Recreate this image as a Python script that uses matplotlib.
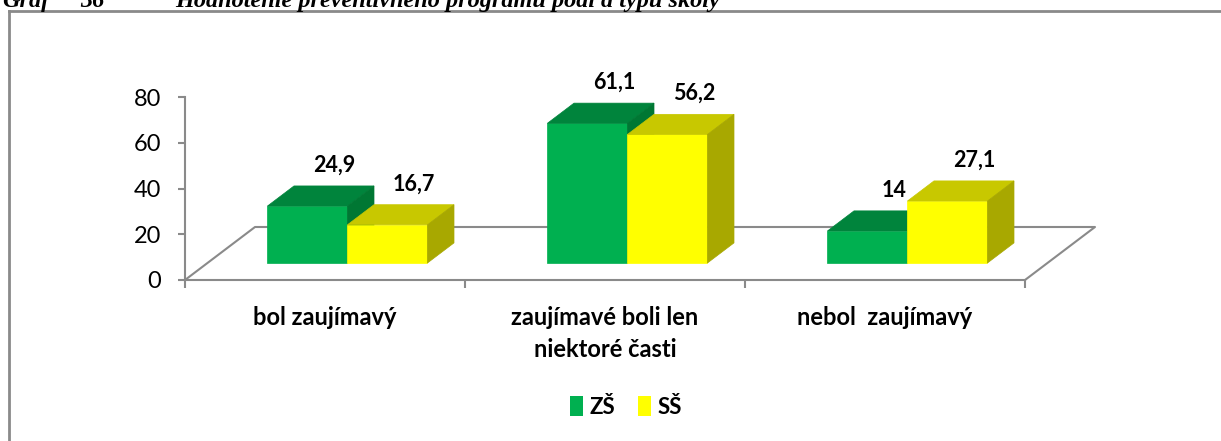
import matplotlib.pyplot as plt
from matplotlib.patches import Polygon, Patch
from matplotlib.lines import Line2D

# data
categories = ['bol zaujímavý', 'zaujímavé boli len\nniektoré časti', 'nebol  zaujímavý']
series_names = ['ZŠ', 'SŠ']
zs_values = [24.9, 61.1, 14.0]
ss_values = [16.7, 56.2, 27.1]
value_labels = [['24,9', '61,1', '14'], ['16,7', '56,2', '27,1']]
yticks = [0, 20, 40, 60, 80]

# colours: front, top, side
palette = [('#00b050', '#00843c', '#007733'),
           ('#ffff00', '#c8c800', '#a8a800')]

plt.rcParams['font.family'] = ['Lato', 'DejaVu Sans']

W, H = 1221, 441
fig = plt.figure(figsize=(W / 100, H / 100), dpi=100)

# plot area in pixels: front floor from x=185..1025, y 0 at 280, 80 at 97
ax = fig.add_axes([185 / W, 1 - 280 / H, 840 / W, 183 / H])
ax.set_xlim(0, 3)
ax.set_ylim(0, 80)
ax.patch.set_visible(False)

# oblique projection of the depth axis (in data units)
DX = 70 / 280
DY = 53 / (183 / 80)

def proj(x, v, d):
    return (x + d * DX, v + d * DY)

gray = '#8a8a8a'
for s in ['top', 'right']:
    ax.spines[s].set_visible(False)
for s in ['left', 'bottom']:
    ax.spines[s].set_color(gray)
    ax.spines[s].set_linewidth(1.5)

# floor outline
floor = [proj(0, 0, 0), proj(0, 0, 1), proj(3, 0, 1), proj(3, 0, 0)]
ax.plot([p[0] for p in floor], [p[1] for p in floor], color=gray, lw=1.5,
        clip_on=False, zorder=1)

ax.set_yticks(yticks)
ax.set_yticklabels([str(t) for t in yticks], fontsize=17)
ax.set_xticks([0, 1, 2, 3])
ax.set_xticklabels([])
ax.tick_params(axis='y', length=5, width=1.5, color=gray, pad=12)
ax.tick_params(axis='x', length=6, width=1.5, color=gray)

bw = 80 / 280
d0, d1 = 0.32, 0.70
z = 3
for i in range(len(categories)):
    for j, vals in enumerate([zs_values, ss_values]):
        v = vals[i]
        x0 = i + 0.5 - bw + j * bw
        x1 = x0 + bw
        front, top, side = palette[j]
        faces = [
            ([proj(x0, 0, d0), proj(x1, 0, d0), proj(x1, v, d0), proj(x0, v, d0)], front),
            ([proj(x0, v, d0), proj(x1, v, d0), proj(x1, v, d1), proj(x0, v, d1)], top),
            ([proj(x1, 0, d0), proj(x1, 0, d1), proj(x1, v, d1), proj(x1, v, d0)], side),
        ]
        for pts, c in faces:
            ax.add_patch(Polygon(pts, closed=True, facecolor=c, edgecolor=c,
                                 lw=0.5, clip_on=False, zorder=z))
        z += 1
        lx, ly = proj((x0 + x1) / 2, v, d1)
        ax.annotate(value_labels[j][i], (lx, ly), xytext=(0, 15),
                    textcoords='offset points', ha='center', va='center',
                    fontsize=15.5, fontweight='bold', zorder=20)

# category labels
for i, cat in enumerate(categories):
    ax.annotate(cat, (i + 0.5, 0), xytext=(0, -18.5), textcoords='offset points',
                ha='center', va='top', fontsize=17, fontweight='bold',
                linespacing=1.5, annotation_clip=False)

handles = [Patch(facecolor=palette[k][0], edgecolor='none') for k in range(2)]
fig.legend(handles, series_names, loc='center', bbox_to_anchor=(626 / W, 1 - 407 / H),
           ncol=2, frameon=False, handlelength=0.6, handleheight=1.0,
           handletextpad=0.3, columnspacing=1.0,
           prop={'weight': 'bold', 'size': 16})

# chart border (only top and left visible)
fig.add_artist(Line2D([9 / W, 1], [1 - 11 / H, 1 - 11 / H], color=gray, lw=2))
fig.add_artist(Line2D([9 / W, 9 / W], [0, 1 - 11 / H], color=gray, lw=2))

# caption above the chart, cut at the top edge as in the source
cap = dict(family='Liberation Serif', fontweight='bold', style='italic',
           fontsize=17.5, va='baseline', ha='left')
fig.text(2 / W, 1 - 7 / H, 'Graf', **cap)
fig.text(80 / W, 1 - 7 / H, '36', **cap)
fig.text(175 / W, 1 - 7 / H, 'Hodnotenie preventívneho programu podľa typu školy', **cap)

fig.savefig('out.png', dpi=100)
